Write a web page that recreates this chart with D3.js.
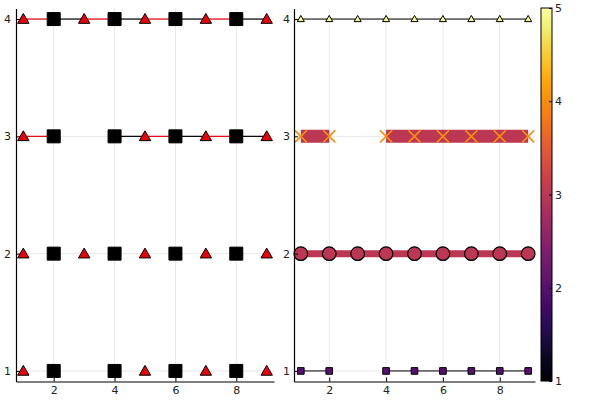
<!DOCTYPE html>
<html>
<head>
<meta charset="utf-8">
<script src="https://cdn.jsdelivr.net/npm/d3@7"></script>
<style>
  body { margin: 0; background: #fff; }
  text { font-family: "DejaVu Sans", sans-serif; font-size: 11px; fill: #222; }
</style>
</head>
<body>
<div class="chart"></div>
<script>
// data
var xValues = [1, 2, 3, 4, 5, 6, 7, 8, 9];
var xTicks = [2, 4, 6, 8];
var yTicks = [1, 2, 3, 4];
var cbTicks = [1, 2, 3, 4, 5];

// left panel rows (null = gap)
var leftRow4 = [4, 4, 4, 4, 4, 4, 4, 4, 4];
var leftRow3 = [3, 3, null, 3, 3, 3, 3, 3, 3];
var leftRow2 = [2, 2, 2, 2, 2, 2, 2, 2, 2];
var leftRow1 = [1, 1, null, 1, 1, 1, 1, 1, 1];
var leftHasLine = [true, true, false, false];

// right panel rows
var rightRow4 = [4, 4, 4, 4, 4, 4, 4, 4, 4];
var rightRow3 = [3, 3, null, 3, 3, 3, 3, 3, 3];
var rightRow2 = [2, 2, 2, 2, 2, 2, 2, 2, 2];
var rightRow1 = [1, 1, null, 1, 1, 1, 1, 1, 1];
// colour values on the colour bar
var rightLineZ = [null, 3, 3, null];
var rightMarkerZ = [4.9, 4, 3, 2];

var svgWidth = 600;
var svgHeight = 400;

var svg = d3.select(".chart")
  .append("svg")
  .attr("width", svgWidth)
  .attr("height", svgHeight);

var yScale = d3.scaleLinear().domain([0.91, 4.09]).range([381.5, 8.5]);
var xLeft = d3.scaleLinear().domain([0.76, 9.24]).range([16, 274]);
var xRight = d3.scaleLinear().domain([0.76, 9.24]).range([294, 535]);
var colorScale = d3.scaleSequential(d3.interpolateInferno).domain([1, 5]);
var fmt = d3.format("d");

function toPoints(ys) {
  return xValues.map((x, i) => ({ x: x, y: ys[i], i: i }));
}

function drawFrame(xs) {
  var g = svg.append("g");
  // grid
  g.selectAll(".gx").data(xTicks).enter().append("line")
    .attr("x1", d => xs(d)).attr("x2", d => xs(d))
    .attr("y1", yScale.range()[1]).attr("y2", yScale.range()[0])
    .attr("stroke", "#e8e8e8");
  g.selectAll(".gy").data(yTicks).enter().append("line")
    .attr("x1", xs.range()[0]).attr("x2", xs.range()[1])
    .attr("y1", d => yScale(d)).attr("y2", d => yScale(d))
    .attr("stroke", "#e8e8e8");
  return g;
}

function drawAxes(xs, yPad) {
  var bottom = d3.axisBottom(xs).tickValues(xTicks).tickFormat(fmt)
    .tickSizeInner(-4).tickSizeOuter(0).tickPadding(5);
  var left = d3.axisLeft(yScale).tickValues(yTicks).tickFormat(fmt)
    .tickSizeInner(-4).tickSizeOuter(0).tickPadding(yPad);
  var gx = svg.append("g").attr("transform", `translate(0, ${yScale.range()[0]})`).call(bottom);
  var gy = svg.append("g").attr("transform", `translate(${xs.range()[0]}, 0)`).call(left);
  [gx, gy].forEach(function (a) {
    a.select(".domain").attr("stroke", "#000").attr("stroke-width", 1.2);
    a.selectAll("line").attr("stroke", "#000");
    a.selectAll("text").attr("font-size", "11px").attr("fill", "#222")
      .attr("font-family", "DejaVu Sans, sans-serif");
  });
}

var tri = d3.symbol().type(d3.symbolTriangle);
var sq = d3.symbol().type(d3.symbolSquare);

// ---------- left panel ----------
var gLeft = drawFrame(xLeft);
[leftRow4, leftRow3, leftRow2, leftRow1].forEach(function (row, r) {
  var pts = toPoints(row);
  if (leftHasLine[r]) {
    var segs = [];
    for (var i = 0; i < pts.length - 1; i++) {
      if (pts[i].y != null && pts[i + 1].y != null) segs.push([pts[i], pts[i + 1]]);
    }
    gLeft.selectAll(null).data(segs).enter().append("line")
      .attr("x1", d => xLeft(d[0].x)).attr("y1", d => yScale(d[0].y))
      .attr("x2", d => xLeft(d[1].x)).attr("y2", d => yScale(d[1].y))
      .attr("stroke", d => d[0].i % 2 === 0 ? "#e8000b" : "#000")
      .attr("stroke-width", 1.2);
  }
  gLeft.selectAll(null).data(pts.filter(d => d.y != null)).enter().append("path")
    .attr("transform", d => `translate(${xLeft(d.x)}, ${yScale(d.y) + (d.i % 2 === 0 ? 1 : 0)})`)
    .attr("d", d => d.i % 2 === 0 ? tri.size(56)() : sq.size(169)())
    .attr("fill", d => d.i % 2 === 0 ? "#e8000b" : "#000")
    .attr("stroke", "#000")
    .attr("stroke-width", 1);
});
drawAxes(xLeft, 5);

// ---------- right panel ----------
var gRight = drawFrame(xRight);
var line = d3.line().defined(d => d.y != null).x(d => xRight(d.x)).y(d => yScale(d.y));

// row 1: thin line + small squares
var p1 = toPoints(rightRow1);
gRight.append("path").datum(p1).attr("d", line).attr("fill", "none").attr("stroke", "#000").attr("stroke-width", 1);
gRight.selectAll(null).data(p1.filter(d => d.y != null)).enter().append("path")
  .attr("transform", d => `translate(${xRight(d.x)}, ${yScale(d.y)})`)
  .attr("d", sq.size(44)())
  .attr("fill", colorScale(rightMarkerZ[3])).attr("stroke", "#000").attr("stroke-width", 1);

// row 2: thick line + circles
var p2 = toPoints(rightRow2);
gRight.append("path").datum(p2).attr("d", line).attr("fill", "none")
  .attr("stroke", colorScale(rightLineZ[1])).attr("stroke-width", 7);
gRight.selectAll(null).data(p2).enter().append("circle")
  .attr("cx", d => xRight(d.x)).attr("cy", d => yScale(d.y)).attr("r", 6.8)
  .attr("fill", colorScale(rightMarkerZ[2])).attr("stroke", "#000").attr("stroke-width", 1.2);

// row 3: very thick line + x markers
var p3 = toPoints(rightRow3);
gRight.append("path").datum(p3).attr("d", line).attr("fill", "none")
  .attr("stroke", colorScale(rightLineZ[2])).attr("stroke-width", 13);
gRight.selectAll(null).data(p3.filter(d => d.y != null)).enter().append("path")
  .attr("transform", d => `translate(${xRight(d.x)}, ${yScale(d.y)})`)
  .attr("d", "M-6,-6L6,6M-6,6L6,-6")
  .attr("fill", "none").attr("stroke", colorScale(rightMarkerZ[1])).attr("stroke-width", 1.6);

// row 4: thin line + small triangles
var p4 = toPoints(rightRow4);
gRight.append("path").datum(p4).attr("d", line).attr("fill", "none").attr("stroke", "#000").attr("stroke-width", 1);
gRight.selectAll(null).data(p4).enter().append("path")
  .attr("transform", d => `translate(${xRight(d.x)}, ${yScale(d.y) + 0.5})`)
  .attr("d", tri.size(22)())
  .attr("fill", colorScale(rightMarkerZ[0])).attr("stroke", "#000").attr("stroke-width", 1);
drawAxes(xRight, 4);

// ---------- colour bar ----------
var cbScale = d3.scaleLinear().domain([1, 5]).range([381, 8]);
var defs = svg.append("defs");
var grad = defs.append("linearGradient").attr("id", "cb")
  .attr("x1", "0").attr("y1", "1").attr("x2", "0").attr("y2", "0");
d3.range(0, 1.0001, 0.05).forEach(function (t) {
  grad.append("stop").attr("offset", t).attr("stop-color", d3.interpolateInferno(t));
});
svg.append("rect").attr("x", 541).attr("y", 8).attr("width", 11).attr("height", 373)
  .attr("fill", "url(#cb)").attr("stroke", "#000").attr("stroke-width", 1);
var cbAxis = d3.axisRight(cbScale).tickValues(cbTicks).tickFormat(fmt)
  .tickSizeInner(-3).tickSizeOuter(0).tickPadding(3);
var gcb = svg.append("g").attr("transform", "translate(552, 0)").call(cbAxis);
gcb.select(".domain").remove();
gcb.selectAll("line").attr("stroke", "#000");
gcb.selectAll("text").attr("font-size", "11px").attr("fill", "#222")
  .attr("font-family", "DejaVu Sans, sans-serif");
</script>
</body>
</html>
